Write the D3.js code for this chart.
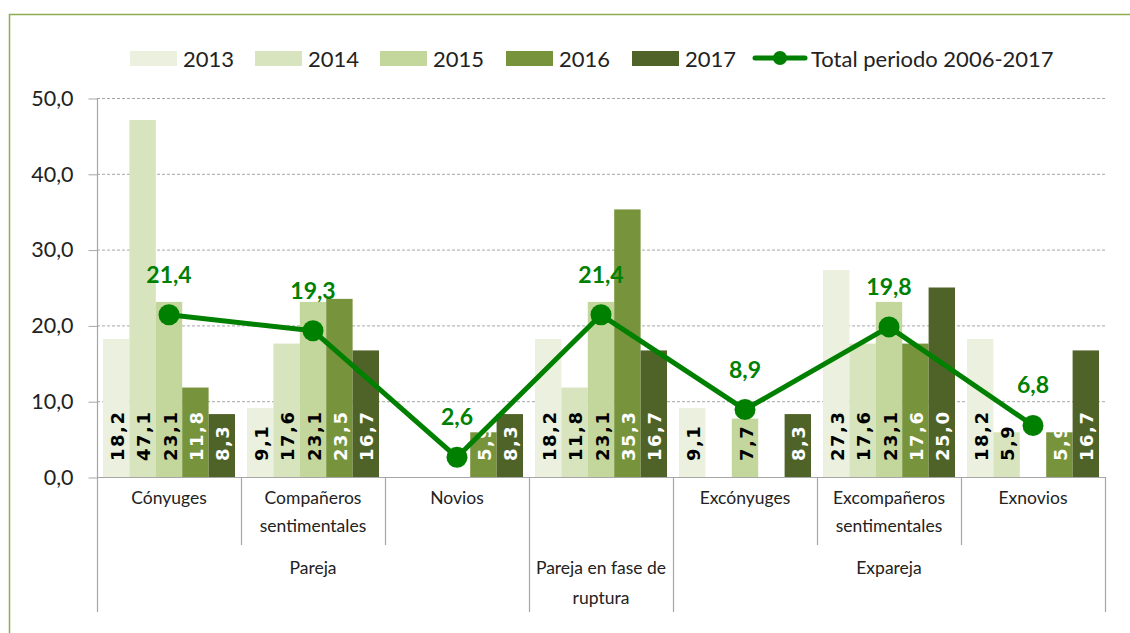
<!DOCTYPE html>
<html><head><meta charset="utf-8">
<script src="https://cdn.jsdelivr.net/npm/d3@7"></script>
<style>body{margin:0;background:#fff}svg{display:block}</style>
</head><body>
<svg id="c" width="1130" height="633"></svg>
<script>
const categories = ["Cónyuges","Compañeros\nsentimentales","Novios","","Excónyuges","Excompañeros\nsentimentales","Exnovios"];
const groups = [
  {label:"Pareja", from:0, to:2},
  {label:"Pareja en fase de\nruptura", from:3, to:3},
  {label:"Expareja", from:4, to:6}
];
const years = ["2013","2014","2015","2016","2017"];
const v2013 = [18.2, 9.1, null, 18.2, 9.1, 27.3, 18.2];
const v2014 = [47.1, 17.6, null, 11.8, null, 17.6, 5.9];
const v2015 = [23.1, 23.1, null, 23.1, 7.7, 23.1, null];
const v2016 = [11.8, 23.5, 5.9, 35.3, null, 17.6, 5.9];
const v2017 = [8.3, 16.7, 8.3, 16.7, 8.3, 25.0, 16.7];
const total = [21.4, 19.3, 2.6, 21.4, 8.9, 19.8, 6.8];
const totalLabel = "Total periodo 2006-2017";
const yTicks = [0,10,20,30,40,50];

const series = [v2013, v2014, v2015, v2016, v2017];
const colors = ["#ebf1de","#d7e4bd","#c3d69b","#77933c","#4f6228"];
const labelColors = ["#000","#000","#000","#fff","#fff"];
const lineColor = "#008000";
const FONT = "Lato, 'Open Sans', sans-serif";
const fmt = v => v.toFixed(1).replace(".", ",");

const svg = d3.select("#c");
const L = 97, R = 1105, T = 98, B = 477;
const idx = categories.map((_, i) => i);
const x = d3.scaleBand().domain(idx).range([L, R]).paddingInner(0).paddingOuter(0);
const xs = d3.scaleBand().domain(years).range([0, x.bandwidth()]).paddingOuter(0.227).paddingInner(0);
const y = d3.scaleLinear().domain([0, 50]).range([B, T]);

// frame
svg.append("path").attr("d", "M9.5,640 V14.5 H1140").attr("fill","none").attr("stroke","#8fac4e").attr("stroke-width",1.5);

// gridlines
svg.append("g").selectAll("line").data(yTicks.filter(d=>d>0)).join("line")
  .attr("x1", L).attr("x2", R).attr("y1", d=>y(d)+0.5).attr("y2", d=>y(d)+0.5)
  .attr("stroke","#a6a6a6").attr("stroke-dasharray","3,2").attr("stroke-width",1);

// y axis
const yAxis = d3.axisLeft(y).tickValues(yTicks).tickSize(9).tickFormat(fmt);
const gy = svg.append("g").attr("transform",`translate(${L+0.5},0.5)`).call(yAxis);
gy.select(".domain").remove();
gy.selectAll(".tick line").attr("stroke","#a6a6a6");
gy.selectAll(".tick text").attr("x",-24).attr("font-family",FONT).attr("font-size",21.5).attr("fill","#222");
svg.append("line").attr("x1",L+0.5).attr("x2",L+0.5).attr("y1",T).attr("y2",612).attr("stroke","#a6a6a6").attr("stroke-width",1.2);

// bars
series.forEach((vals, s) => {
  const g = svg.append("g");
  const data = vals.map((v,i)=>({v,i})).filter(d=>d.v!==null);
  g.selectAll("rect").data(data).join("rect")
    .attr("x", d => x(d.i) + xs(years[s]))
    .attr("width", xs.bandwidth())
    .attr("y", d => y(d.v))
    .attr("height", d => y(0) - y(d.v))
    .attr("fill", colors[s]);
  g.selectAll("text").data(data).join("text")
    .attr("transform", d => `translate(${x(d.i) + xs(years[s]) + xs.bandwidth()/2 + 1},${B-16}) rotate(-90)`)
    .attr("dominant-baseline","central")
    .attr("font-family","'DejaVu Sans', sans-serif")
    .attr("font-weight","bold")
    .attr("font-size",18).attr("letter-spacing",1.5)
    .attr("fill", labelColors[s])
    .text(d => fmt(d.v));
});

// x axis
svg.append("line").attr("x1",L).attr("x2",R).attr("y1",B+0.5).attr("y2",B+0.5).attr("stroke","#a6a6a6").attr("stroke-width",1.2);
const bounds = d3.range(categories.length + 1);
const groupEdges = new Set([0]);
groups.forEach(g => { groupEdges.add(g.from); groupEdges.add(g.to+1); });
svg.append("g").selectAll("line").data(bounds.slice(1)).join("line")
  .attr("x1", i => (i < categories.length ? x(i) : R) + 0.5)
  .attr("x2", i => (i < categories.length ? x(i) : R) + 0.5)
  .attr("y1", B).attr("y2", i => groupEdges.has(i) ? 612 : 545)
  .attr("stroke","#a6a6a6").attr("stroke-width",1.2);

// category labels
svg.append("g").selectAll("text").data(idx).join("text")
  .attr("x", i => x(i) + x.bandwidth()/2).attr("y", 504)
  .attr("text-anchor","middle").attr("font-family",FONT).attr("font-size",17.5).attr("fill","#222")
  .each(function(i){
    const lines = categories[i].split("\n");
    d3.select(this).selectAll("tspan").data(lines).join("tspan")
      .attr("x", x(i) + x.bandwidth()/2).attr("dy",(d,k)=>k===0?0:28).text(d=>d);
  });
// group labels
svg.append("g").selectAll("text").data(groups).join("text")
  .attr("y", 574).attr("text-anchor","middle").attr("font-family",FONT).attr("font-size",17.5).attr("fill","#222")
  .each(function(g){
    const cx = (x(g.from) + x(g.to) + x.bandwidth())/2;
    d3.select(this).selectAll("tspan").data(g.label.split("\n")).join("tspan")
      .attr("x", cx).attr("dy",(d,k)=>k===0?0:30).text(d=>d);
  });

// total line
const cxs = i => x(i) + x.bandwidth()/2;
svg.append("path").datum(total)
  .attr("d", d3.line().x((d,i)=>cxs(i)).y(d=>y(d)))
  .attr("fill","none").attr("stroke",lineColor).attr("stroke-width",5).attr("stroke-linejoin","round");
svg.append("g").selectAll("circle").data(total).join("circle")
  .attr("cx",(d,i)=>cxs(i)).attr("cy",d=>y(d)).attr("r",10.5).attr("fill",lineColor);
svg.append("g").selectAll("text").data(total).join("text")
  .attr("x",(d,i)=>cxs(i)).attr("y",d=>y(d)-32)
  .attr("text-anchor","middle").attr("font-family",FONT).attr("font-weight","bold").attr("font-size",23)
  .attr("fill",lineColor).text(d=>fmt(d));

// legend
const lg = svg.append("g");
const legX = [130, 255, 380, 506, 632];
years.forEach((yr, s) => {
  lg.append("rect").attr("x",legX[s]).attr("y",51).attr("width",47).attr("height",15).attr("fill",colors[s]);
  lg.append("text").attr("x",legX[s]+53).attr("y",58).attr("dominant-baseline","central")
    .attr("font-family",FONT).attr("font-size",22).attr("fill","#222").text(yr);
});
lg.append("line").attr("x1",755).attr("x2",805).attr("y1",58).attr("y2",58).attr("stroke",lineColor).attr("stroke-width",5).attr("stroke-linecap","round");
lg.append("circle").attr("cx",780).attr("cy",58).attr("r",7).attr("fill",lineColor);
lg.append("text").attr("x",811).attr("y",58).attr("dominant-baseline","central")
  .attr("font-family",FONT).attr("font-size",22).attr("fill","#222").text(totalLabel);
</script>
</body></html>
